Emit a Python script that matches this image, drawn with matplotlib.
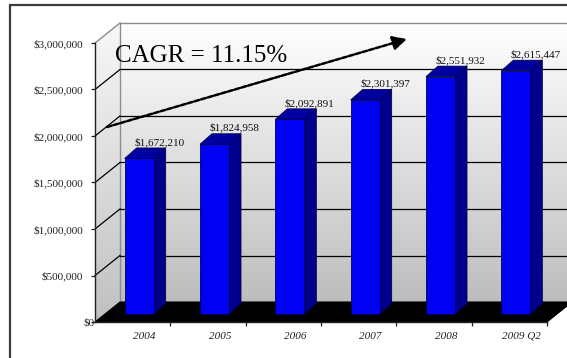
import numpy as np
import matplotlib
matplotlib.use("Agg")
import matplotlib.pyplot as plt
from matplotlib.colors import LinearSegmentedColormap
from matplotlib.patches import Polygon
from matplotlib.transforms import ScaledTranslation

# ---- data -------------------------------------------------------------
categories = ["2004", "2005", "2006", "2007", "2008", "2009 Q2"]
revenue = [1672210, 1824958, 2092891, 2301397, 2551932, 2615447]
y_ticks = [0, 500000, 1000000, 1500000, 2000000, 2500000, 3000000]
cagr_text = "CAGR = 11.15%"

# ---- figure geometry (pixels) -----------------------------------------
W, H, DPI = 567, 358, 100
X_LEFT, X_RIGHT = 95, 547          # front plane, category axis extent
Y_ZERO, Y_TOP = 322, 43            # front plane, value axis extent
YMAX = 3000000
N = len(categories)

PX = (X_RIGHT - X_LEFT) / N        # pixels per category
PY = (Y_ZERO - Y_TOP) / YMAX       # pixels per value unit


def px2x(px):
    return (px - X_LEFT) / PX


def px2y(py):
    return (Y_ZERO - py) / PY


# depth offsets (converted to data units)
DX, DY = 25 / PX, 20 / PY          # front plane -> back wall
BX, BY = 6.5 / PX, 8 / PY          # front plane -> bar front face
BW = 29 / PX                       # bar width
BDX, BDY = 12 / PX, 10.5 / PY      # bar depth

plt.rcParams["font.family"] = ["Liberation Serif", "DejaVu Serif"]

fig = plt.figure(figsize=(W / DPI, H / DPI), dpi=DPI)
fig.patch.set_facecolor("white")
ax = fig.add_axes([0, 0, 1, 1])
ax.set_facecolor("none")

# ---- walls ------------------------------------------------------------
wall_cmap = LinearSegmentedColormap.from_list("wall", ["#bdbdbd", "#ffffff"])
grad = np.linspace(0, 1, 256)[:, None]

back = ax.imshow(grad, cmap=wall_cmap, extent=(DX, N + DX, DY, YMAX + DY),
                 origin="lower", aspect="auto", zorder=0, interpolation="bilinear")

side_poly = Polygon([(0, 0), (DX, DY), (DX, YMAX + DY), (0, YMAX)],
                    closed=True, facecolor="none", edgecolor="none")
ax.add_patch(side_poly)
side = ax.imshow(grad, cmap=LinearSegmentedColormap.from_list("side", ["#c0c0c0", "#f8f8f8"]),
                 extent=(0, DX, 0, YMAX + DY), origin="lower", aspect="auto",
                 zorder=0, interpolation="bilinear")
side.set_clip_path(side_poly)

edge_col = "#8c8c8c"
ax.plot([DX, N + DX], [YMAX + DY, YMAX + DY], color=edge_col, lw=1.0, zorder=1)
ax.plot([DX, DX], [DY, YMAX + DY], color=edge_col, lw=1.0, zorder=1)
ax.plot([0, DX], [YMAX, YMAX + DY], color=edge_col, lw=1.0, zorder=1)

# gridlines on side and back walls
for v in y_ticks[1:-1]:
    ax.plot([0, DX], [v, v + DY], color="black", lw=0.9, zorder=1)
    ax.plot([DX, N + DX], [v + DY, v + DY], color="black", lw=0.9, zorder=1)

# floor
ax.add_patch(Polygon([(0, 0), (N, 0), (N + DX, DY), (DX, DY)], closed=True,
                     facecolor="black", edgecolor="black", lw=0.8, zorder=2))

# ---- bars -------------------------------------------------------------
front_col, side_col, top_col, line_col = "#0000f2", "#00008c", "#0000a0", "#00004a"
for i, v in enumerate(revenue):
    xc = i + 0.5 + BX
    xl, xr = xc - BW / 2, xc + BW / 2
    y0, y1 = BY, v + BY
    ax.add_patch(Polygon([(xr, y0), (xr, y1), (xr + BDX, y1 + BDY), (xr + BDX, y0 + BDY)],
                         closed=True, facecolor=side_col, edgecolor=line_col, lw=0.6, zorder=3))
    ax.add_patch(Polygon([(xl, y1), (xr, y1), (xr + BDX, y1 + BDY), (xl + BDX, y1 + BDY)],
                         closed=True, facecolor=top_col, edgecolor=line_col, lw=0.6, zorder=3))
    ax.add_patch(Polygon([(xl, y0), (xr, y0), (xr, y1), (xl, y1)],
                         closed=True, facecolor=front_col, edgecolor=line_col, lw=0.6, zorder=4))
    ax.text(xc + 20 / PX, y1 + BDY + 3 / PY, f"${v:,.0f}", ha="center", va="baseline",
            fontsize=8, color="#111111", zorder=5)

# ---- axes -------------------------------------------------------------
ax.set_xlim(px2x(0), px2x(W))
ax.set_ylim(px2y(H), px2y(0))

for s in ["top", "right"]:
    ax.spines[s].set_visible(False)
ax.spines["left"].set_position(("data", 0))
ax.spines["left"].set_bounds(0, YMAX)
ax.spines["bottom"].set_position(("data", 0))
ax.spines["bottom"].set_bounds(0, N)
for s in ["left", "bottom"]:
    ax.spines[s].set_color("#222222")
    ax.spines[s].set_linewidth(1.0)
    ax.spines[s].set_zorder(6)

ax.set_yticks(y_ticks)
ax.set_yticklabels([f"${t:,.0f}" for t in y_ticks])
ax.tick_params(axis="y", direction="out", length=2.6, width=0.9, pad=6,
               labelsize=8, colors="#222222")

ax.set_xticks(range(1, N + 1))
ax.set_xticklabels([])
ax.set_xticks([i + 0.5 + 12 / PX for i in range(N)], minor=True)
ax.set_xticklabels(categories, minor=True, fontsize=8, fontstyle="italic")
ax.tick_params(axis="x", which="major", direction="out", length=3, width=0.9,
               colors="#222222")
ax.tick_params(axis="x", which="minor", length=0, pad=7, labelsize=8, colors="#222222")

# the "$0" label sits tucked against the axis corner
zero_lbl = ax.get_yticklabels()[0]
zero_lbl.set_transform(zero_lbl.get_transform() + ScaledTranslation(12 / DPI, 0, fig.dpi_scale_trans))

# ---- annotations ------------------------------------------------------
ax.text(px2x(115), px2y(62), cagr_text, fontsize=18, ha="left", va="baseline",
        color="black", zorder=5)
ax.annotate("", xy=(px2x(407), px2y(39)), xytext=(px2x(107), px2y(127)),
            arrowprops=dict(arrowstyle="-|>,head_length=0.6,head_width=0.3",
                            mutation_scale=14, lw=1.8, linestyle=(0, (2.0, 0.8)),
                            color="black", shrinkA=0, shrinkB=0),
            zorder=5)

# chart frame
ax.plot([px2x(10), px2x(10), px2x(W + 5)], [px2y(H + 5), px2y(5), px2y(5)],
        color="#3c3c3c", lw=1.6, zorder=7, solid_joinstyle="miter")

fig.savefig("out.png", dpi=DPI)
